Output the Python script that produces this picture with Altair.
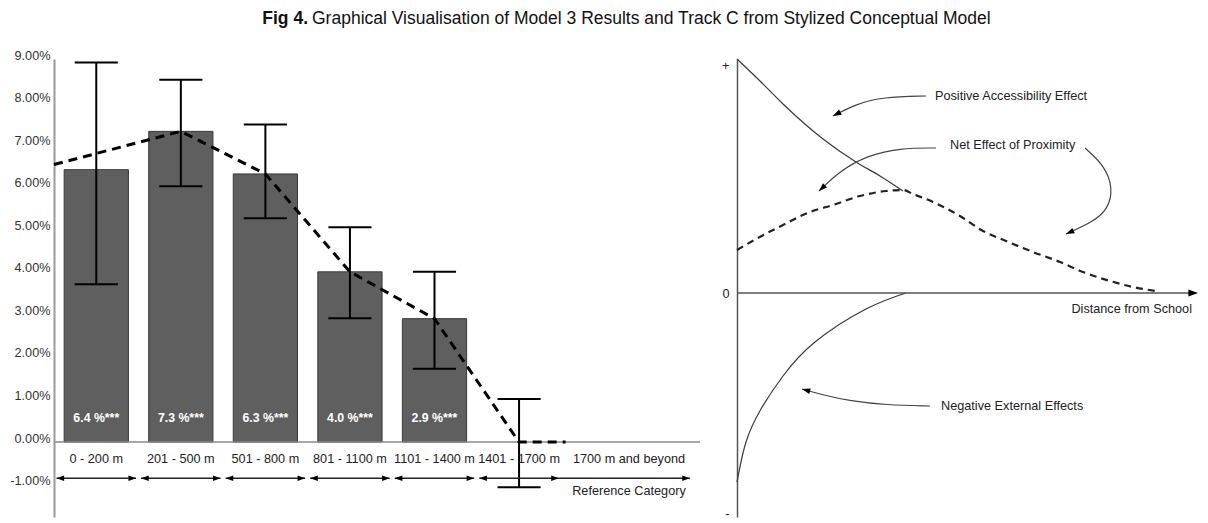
import altair as alt
import numpy as np
import pandas as pd

FONT = "Liberation Sans"

# ---------------- left panel data ----------------
categories = ["0 - 200 m", "201 - 500 m", "501 - 800 m", "801 - 1100 m",
              "1101 - 1400 m", "1401 - 1700 m", "1700 m and beyond"]
category_pos = [0.5, 1.5, 2.5, 3.5, 4.5, 5.5, 6.8]
bar_values = [6.4, 7.3, 6.3, 4.0, 2.9]
bar_labels = ["6.4 %***", "7.3 %***", "6.3 %***", "4.0 %***", "2.9 %***"]
ci_low = [3.71, 6.01, 5.26, 2.91, 1.72, -1.06]
ci_high = [8.92, 8.51, 7.46, 5.05, 4.00, 1.01]
trend_x = [0.0, 1.5, 2.5, 3.5, 4.5, 5.5, 6.05]
trend_y = [6.52, 7.3, 6.3, 4.0, 2.9, 0.0, 0.0]
y_ticks = [-2, -1, 0, 1, 2, 3, 4, 5, 6, 7, 8, 9]
span_start = [0.03, 1.03, 2.03, 3.03, 4.03, 5.03, 5.97]
span_end = [0.97, 1.97, 2.97, 3.97, 4.97, 5.97, 7.52]
ref_label = "Reference Category"

# ---------------- right panel data ----------------
pos_x = [0, 23, 46, 86, 119, 143, 166]
pos_y = [234, 212, 189, 154, 131, 117, 102]
net_x = [0, 19, 46, 73, 96, 123, 149, 166, 176, 196, 223, 246, 269, 296, 323, 346, 373, 396, 419]
net_y = [43, 54, 68, 81, 88, 97, 102, 103, 99, 91, 77, 62, 52, 41, 31, 21, 12, 6, 2]
neg_x = [0, 9, 24, 46, 78, 129, 169]
neg_y = [-189, -149, -116, -83, -49, -16, 0]
arrow_paths = {
    "pos": ([189, 146, 119, 96], [197, 196, 189, 177]),
    "net_left": ([199, 163, 129, 103, 82], [145, 145, 137, 122, 102]),
    "net_right": ([348, 368, 376, 371, 356, 329], [145, 127, 104, 84, 71, 59]),
    "neg": ([193, 149, 113, 86, 65], [-113, -112, -108, -102, -96]),
}
ann_text = ["Positive Accessibility Effect", "Net Effect of Proximity",
            "Negative External Effects"]
ann_x = [198, 213, 204]
ann_y = [197, 148, -113]
axis_label = "Distance from School"

TITLE_BOLD = "Fig 4."
TITLE_REST = "Graphical Visualisation of Model 3 Results and Track C from Stylized Conceptual Model"

# arrowhead: tip at origin, body downward (points up before rotation)
ARROW = "M0,0L-0.85,2.4L0.85,2.4Z"
FS = 12.7

# ================= LEFT PANEL =================
LW, LH = 646, 458
XL = alt.Scale(domain=[0, 7.64], nice=False, zero=False)
YL = alt.Scale(domain=[-1.76, 9.0], nice=False, zero=False)

y_axis_left = alt.Axis(
    values=y_ticks,
    labelExpr="(datum.value < 0 ? '-' : '') + format(abs(datum.value), '.2f') + '%'",
    ticks=False, grid=False, domainColor="#9a9a9a", domainWidth=2,
    labelColor="#333333", labelFontSize=FS, labelFont=FONT, labelPadding=4,
    labelOffset=-4, title=None, minExtent=46, maxExtent=46)


def xl(f):
    return alt.X(f, type="quantitative", scale=XL, axis=None)


def yl(f):
    return alt.Y(f, type="quantitative", scale=YL, axis=y_axis_left)


bars_df = pd.DataFrame({"pos": category_pos[:5], "value": bar_values, "label": bar_labels})
bars = alt.Chart(bars_df).transform_calculate(
    x0="datum.pos - 0.38", x1="datum.pos + 0.38", base="0"
).mark_rect(fill="#5f5f5f", stroke="#3a3a3a", strokeWidth=1).encode(
    x=xl("x0"), x2="x1:Q", y=yl("base"), y2="value:Q")

bar_text = alt.Chart(bars_df).transform_calculate(ly="0.57").mark_text(
    color="white", fontWeight="bold", fontSize=12.3, font=FONT
).encode(x=xl("pos"), y=yl("ly"), text="label:N")

baseline = alt.Chart(pd.DataFrame({"a": [0.0], "b": [7.64], "y": [0.0]})).mark_rule(
    color="#8a8a8a", strokeWidth=1.5
).encode(x=xl("a"), x2="b:Q", y=yl("y"))

err_df = pd.DataFrame({"pos": category_pos[:6], "lo": ci_low, "hi": ci_high})
err_v = alt.Chart(err_df).mark_rule(color="black", strokeWidth=2).encode(
    x=xl("pos"), y=yl("lo"), y2="hi:Q")
err_lo = alt.Chart(err_df).transform_calculate(
    a="datum.pos - 0.255", b="datum.pos + 0.255"
).mark_rule(color="black", strokeWidth=2).encode(x=xl("a"), x2="b:Q", y=yl("lo"))
err_hi = alt.Chart(err_df).transform_calculate(
    a="datum.pos - 0.255", b="datum.pos + 0.255"
).mark_rule(color="black", strokeWidth=2).encode(x=xl("a"), x2="b:Q", y=yl("hi"))

trend = alt.Chart(pd.DataFrame({"x": trend_x, "y": trend_y})).mark_line(
    color="black", strokeWidth=3, strokeDash=[9, 6]
).encode(x=xl("x"), y=yl("y"))

cat_df = pd.DataFrame({"pos": category_pos, "cat": categories})
cat_text = alt.Chart(cat_df).transform_calculate(ly="-0.40").mark_text(
    fontSize=FS, color="#222222", font=FONT
).encode(x=xl("pos"), y=yl("ly"), text="cat:N")

span_df = pd.DataFrame({"a": span_start, "b": span_end})
spans = alt.Chart(span_df).transform_calculate(ly="-0.85").mark_rule(
    color="#222222", strokeWidth=1.3
).encode(x=xl("a"), x2="b:Q", y=yl("ly"))

head_x = span_start[:6] + span_end
head_ang = [270] * 6 + [90] * 7
heads_df = pd.DataFrame({"x": head_x, "ang": head_ang})
heads = alt.Chart(heads_df).transform_calculate(ly="-0.85").mark_point(
    shape=ARROW, filled=True, color="black", opacity=1, size=40, strokeWidth=0
).encode(x=xl("x"), y=yl("ly"), angle=alt.Angle("ang:Q", scale=None))

ref_text = alt.Chart(pd.DataFrame({"x": [6.8], "t": [ref_label]})).transform_calculate(
    ly="-1.15"
).mark_text(fontSize=FS, color="#222222", font=FONT).encode(
    x=xl("x"), y=yl("ly"), text="t:N")

one = pd.DataFrame({"k": [0]})
title_bold = alt.Chart(one).mark_text(
    fontSize=17.5, fontWeight="bold", align="right", baseline="top",
    color="#111111", font=FONT
).encode(x=alt.value(254), y=alt.value(-49), text=alt.value(TITLE_BOLD))
title_rest = alt.Chart(one).mark_text(
    fontSize=17.5, align="left", baseline="top", color="#111111", font=FONT
).encode(x=alt.value(258), y=alt.value(-49), text=alt.value(TITLE_REST))

left = alt.layer(
    bars, baseline, trend, err_v, err_lo, err_hi, bar_text, cat_text,
    spans, heads, ref_text, title_bold, title_rest
).properties(width=LW, height=LH)

# ================= RIGHT PANEL =================
RW, RH = 461, 458
XR = alt.Scale(domain=[0, 461], nice=False, zero=False)
YR = alt.Scale(domain=[-224, 234], nice=False, zero=False)

y_axis_right = alt.Axis(
    values=[228, 0, -220],
    labelExpr="datum.value > 0 ? '+' : (datum.value < 0 ? '-' : '0')",
    ticks=False, grid=False, domainColor="#555555", domainWidth=1.5,
    labelColor="#222222", labelFontSize=FS, labelFont=FONT, labelPadding=8,
    title=None, minExtent=20, maxExtent=20)


def xr(f):
    return alt.X(f, type="quantitative", scale=XR, axis=None)


def yr(f):
    return alt.Y(f, type="quantitative", scale=YR, axis=y_axis_right)


pos_line = alt.Chart(pd.DataFrame({"x": pos_x, "y": pos_y})).mark_line(
    color="#3a3a3a", strokeWidth=1.2, interpolate="monotone"
).encode(x=xr("x"), y=yr("y"))

net_line = alt.Chart(pd.DataFrame({"x": net_x, "y": net_y})).mark_line(
    color="#222222", strokeWidth=2.2, strokeDash=[7, 5], interpolate="monotone"
).encode(x=xr("x"), y=yr("y"))

neg_line = alt.Chart(pd.DataFrame({"x": neg_x, "y": neg_y})).mark_line(
    color="#3a3a3a", strokeWidth=1.2, interpolate="natural"
).encode(x=xr("x"), y=yr("y"))

x_axis_r = alt.Chart(pd.DataFrame({"a": [0], "b": [455], "y": [0]})).mark_rule(
    color="#555555", strokeWidth=1.5
).encode(x=xr("a"), x2="b:Q", y=yr("y"))

rows = []
head_rows = []
for name, (ax, ay) in arrow_paths.items():
    for i, (px, py) in enumerate(zip(ax, ay)):
        rows.append({"id": name, "o": i, "x": px, "y": py})
    dx = ax[-1] - ax[-2]
    dy_screen = -(ay[-1] - ay[-2])
    ang = float(np.degrees(np.arctan2(dx, -dy_screen))) % 360
    head_rows.append({"x": ax[-1], "y": ay[-1], "ang": ang, "s": 48})
head_rows.append({"x": 461, "y": 0, "ang": 90.0, "s": 64})

arrow_lines = alt.Chart(pd.DataFrame(rows)).mark_line(
    color="#444444", strokeWidth=1.2, interpolate="basis"
).encode(x=xr("x"), y=yr("y"), detail="id:N", order="o:Q")

arrow_heads = alt.Chart(pd.DataFrame(head_rows)).mark_point(
    shape=ARROW, filled=True, color="black", opacity=1, strokeWidth=0
).encode(x=xr("x"), y=yr("y"), angle=alt.Angle("ang:Q", scale=None),
         size=alt.Size("s:Q", scale=None))

ann = alt.Chart(pd.DataFrame({"x": ann_x, "y": ann_y, "t": ann_text})).mark_text(
    align="left", fontSize=FS, color="#222222", font=FONT
).encode(x=xr("x"), y=yr("y"), text="t:N")

ax_lab = alt.Chart(pd.DataFrame({"x": [455], "y": [-16], "t": [axis_label]})).mark_text(
    align="right", fontSize=FS, color="#222222", font=FONT
).encode(x=xr("x"), y=yr("y"), text="t:N")

right = alt.layer(
    pos_line, net_line, neg_line, x_axis_r, arrow_lines, arrow_heads, ann, ax_lab
).properties(width=RW, height=RH)

chart = alt.hconcat(
    left, right, spacing=37, bounds="flush",
    padding={"left": 0, "top": 2, "right": 0, "bottom": 0}
).configure(
    font=FONT, background="white", view=alt.ViewConfig(stroke=None)
)

chart.save("out.html", embed_options={"renderer": "svg", "actions": False})
